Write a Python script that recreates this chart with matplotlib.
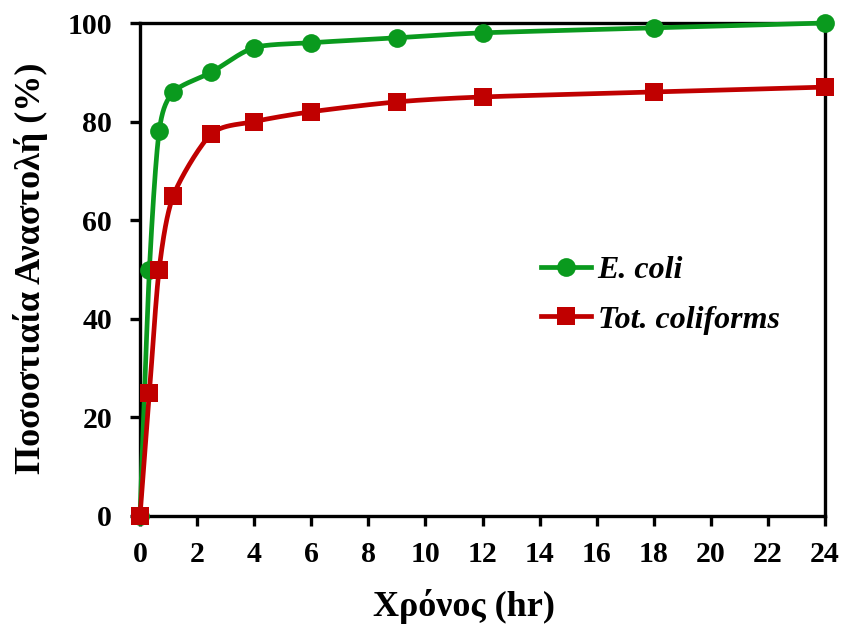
import numpy as np
import matplotlib
matplotlib.use("Agg")
import matplotlib.pyplot as plt
from matplotlib.lines import Line2D

plt.rcParams['font.family'] = ['Liberation Serif', 'DejaVu Serif']

# Sampling times (hr) and percent inhibition for each indicator
time_hr = [0, 0.33, 0.67, 1.17, 2.5, 4, 6, 9, 12, 18, 24]
ecoli = [0, 50, 78, 86, 90, 95, 96, 97, 98, 99, 100]
tot_coliforms = [0, 25, 50, 65, 77.5, 80, 82, 84, 85, 86, 87]

series_names = ["E. coli", "Tot. coliforms"]
x_ticks = list(range(0, 25, 2))
y_ticks = list(range(0, 101, 20))

GREEN = '#0A9A1E'
RED = '#C00000'

W, H = 841, 631
fig = plt.figure(figsize=(W / 100, H / 100), dpi=100)
ax = fig.add_axes([140 / W, 1 - 516 / H, (825 - 140) / W, (516 - 23) / H])
ax.set_xlim(0, 24)
ax.set_ylim(0, 100)


def smooth(xs, ys, sx, sy, k=0.13, n=40):
    """Bezier smoothing through the points, computed in scaled screen units."""
    px = np.asarray(xs, float) * sx
    py = np.asarray(ys, float) * sy
    P = np.column_stack([px, py])
    out = [P[:1]]
    t = np.linspace(0, 1, n)[1:, None]
    for i in range(len(P) - 1):
        p0 = P[i - 1] if i > 0 else P[i]
        p1, p2 = P[i], P[i + 1]
        p3 = P[i + 2] if i + 2 < len(P) else P[i + 1]
        c1 = p1 + (p2 - p0) * k
        c2 = p2 - (p3 - p1) * k
        seg = ((1 - t) ** 3) * p1 + 3 * ((1 - t) ** 2) * t * c1 + 3 * (1 - t) * t ** 2 * c2 + t ** 3 * p2
        out.append(seg)
    S = np.vstack(out)
    return S[:, 0] / sx, S[:, 1] / sy


# pixel scale per data unit, so the smoothing follows the drawn geometry
sx = (825 - 140) / 24
sy = (516 - 23) / 100

LW = 3.4
MS = 13.5
for ys, color, marker in [(ecoli, GREEN, 'o'), (tot_coliforms, RED, 's')]:
    cx, cy = smooth(time_hr, ys, sx, sy)
    ax.plot(cx, cy, color=color, lw=LW, solid_capstyle='round', clip_on=False, zorder=3)
    ax.plot(time_hr, ys, linestyle='none', marker=marker, ms=MS if marker == 'o' else MS - 0.5,
            color=color, markeredgewidth=0, clip_on=False, zorder=4)

for sp in ax.spines.values():
    sp.set_linewidth(2.4)
    sp.set_color('black')

ax.set_xticks(x_ticks)
ax.set_yticks(y_ticks)
ax.tick_params(axis='both', direction='out', length=7, width=2.4, labelsize=21.5)
ax.tick_params(axis='x', pad=11)
ax.tick_params(axis='y', pad=13)
for lab in ax.get_xticklabels() + ax.get_yticklabels():
    lab.set_fontweight('bold')

fig.text(464 / W, 1 - 607 / H, 'Χρόνος (hr)', ha='center', va='center',
         fontsize=26, fontweight='bold')
fig.text(31 / W, 1 - 268 / H, 'Ποσοστιαία Αναστολή (%)', ha='center', va='center',
         rotation=90, fontsize=26, fontweight='bold')

handles = [
    Line2D([], [], color=GREEN, lw=LW, marker='o', ms=MS, markeredgewidth=0),
    Line2D([], [], color=RED, lw=LW, marker='s', ms=MS - 0.5, markeredgewidth=0),
]
leg = ax.legend(handles, series_names, loc='upper left', bbox_to_anchor=(541 / W, 1 - 256 / H),
                bbox_transform=fig.transFigure, frameon=False, handlelength=1.55,
                handletextpad=0.22, labelspacing=0.62, borderaxespad=0, borderpad=0,
                prop={'size': 23, 'weight': 'bold', 'style': 'italic'})

fig.savefig('out.png', dpi=100)
